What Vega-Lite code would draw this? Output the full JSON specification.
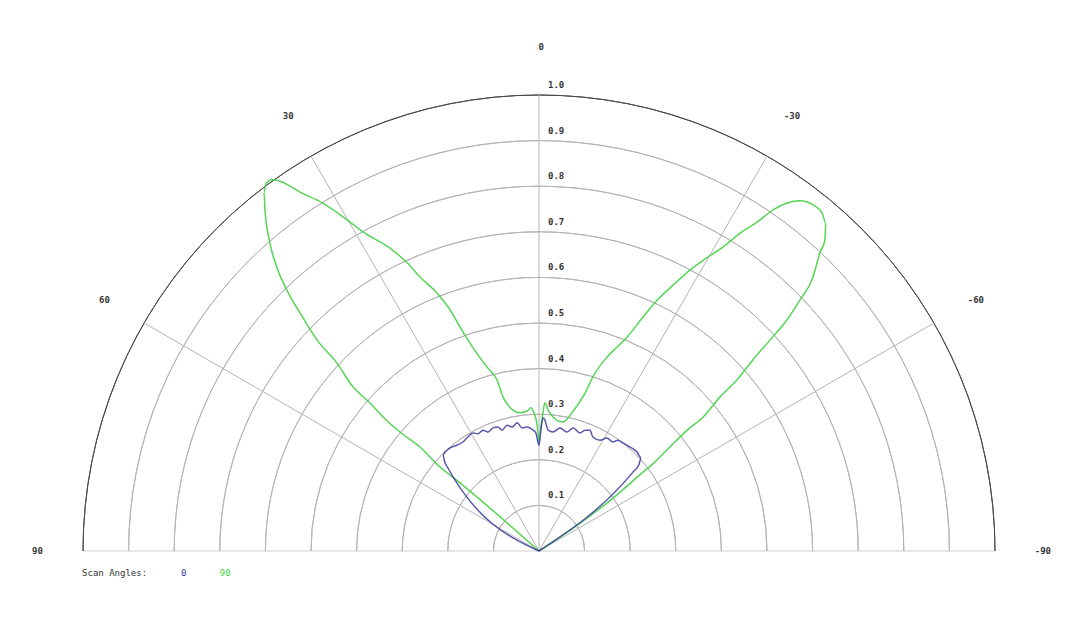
{
  "$schema": "https://vega.github.io/schema/vega-lite/v6.json",
  "description": "Polar half-plot of normalised amplitude for two scan angles",
  "width": 912,
  "height": 456,
  "autosize": "none",
  "padding": {"left": 83, "top": 95, "right": 85, "bottom": 86},
  "background": "white",
  "config": {"view": {"stroke": null}},
  "datasets": {
    "rings": [
      {"r": 0.1}, {"r": 0.2}, {"r": 0.3}, {"r": 0.4}, {"r": 0.5},
      {"r": 0.6}, {"r": 0.7}, {"r": 0.8}, {"r": 0.9}, {"r": 1.0}
    ],
    "spokes": [
      {"x": 0, "y": 0, "x2": 0, "y2": 1},
      {"x": 0, "y": 0, "x2": -0.5, "y2": 0.866},
      {"x": 0, "y": 0, "x2": -0.866, "y2": 0.5},
      {"x": 0, "y": 0, "x2": 0.5, "y2": 0.866},
      {"x": 0, "y": 0, "x2": 0.866, "y2": 0.5}
    ],
    "baseline": [{"x": -1, "y": 0, "x2": 1, "y2": 0}],
    "angleLabels": [
      {"label": "0", "x": 0.005, "y": 1.105},
      {"label": "30", "x": -0.55, "y": 0.953},
      {"label": "60", "x": -0.953, "y": 0.55},
      {"label": "90", "x": -1.1, "y": 0},
      {"label": "-30", "x": 0.555, "y": 0.953},
      {"label": "-60", "x": 0.958, "y": 0.55},
      {"label": "-90", "x": 1.105, "y": 0}
    ],
    "legendText": [
      {"label": "Scan Angles:", "x": -1.002, "y": -0.048, "series": "title"},
      {"label": "0", "x": -0.785, "y": -0.048, "series": "0"},
      {"label": "90", "x": -0.7, "y": -0.048, "series": "90"}
    ],
    "curves": [
      {"series": "90", "i": 0, "x": 0, "y": 0},
      {"series": "90", "i": 1, "x": -0.189, "y": 0.162},
      {"series": "90", "i": 2, "x": -0.217, "y": 0.184},
      {"series": "90", "i": 3, "x": -0.261, "y": 0.228},
      {"series": "90", "i": 4, "x": -0.305, "y": 0.261},
      {"series": "90", "i": 5, "x": -0.342, "y": 0.294},
      {"series": "90", "i": 6, "x": -0.371, "y": 0.325},
      {"series": "90", "i": 7, "x": -0.408, "y": 0.36},
      {"series": "90", "i": 8, "x": -0.443, "y": 0.412},
      {"series": "90", "i": 9, "x": -0.487, "y": 0.463},
      {"series": "90", "i": 10, "x": -0.524, "y": 0.522},
      {"series": "90", "i": 11, "x": -0.553, "y": 0.572},
      {"series": "90", "i": 12, "x": -0.575, "y": 0.623},
      {"series": "90", "i": 13, "x": -0.59, "y": 0.675},
      {"series": "90", "i": 14, "x": -0.601, "y": 0.748},
      {"series": "90", "i": 15, "x": -0.603, "y": 0.787},
      {"series": "90", "i": 16, "x": -0.599, "y": 0.805},
      {"series": "90", "i": 17, "x": -0.586, "y": 0.814},
      {"series": "90", "i": 18, "x": -0.568, "y": 0.811},
      {"series": "90", "i": 19, "x": -0.524, "y": 0.787},
      {"series": "90", "i": 20, "x": -0.474, "y": 0.763},
      {"series": "90", "i": 21, "x": -0.414, "y": 0.721},
      {"series": "90", "i": 22, "x": -0.386, "y": 0.7},
      {"series": "90", "i": 23, "x": -0.327, "y": 0.664},
      {"series": "90", "i": 24, "x": -0.289, "y": 0.632},
      {"series": "90", "i": 25, "x": -0.261, "y": 0.601},
      {"series": "90", "i": 26, "x": -0.224, "y": 0.566},
      {"series": "90", "i": 27, "x": -0.195, "y": 0.529},
      {"series": "90", "i": 28, "x": -0.173, "y": 0.491},
      {"series": "90", "i": 29, "x": -0.156, "y": 0.463},
      {"series": "90", "i": 30, "x": -0.134, "y": 0.43},
      {"series": "90", "i": 31, "x": -0.112, "y": 0.401},
      {"series": "90", "i": 32, "x": -0.092, "y": 0.375},
      {"series": "90", "i": 33, "x": -0.079, "y": 0.338},
      {"series": "90", "i": 34, "x": -0.068, "y": 0.32},
      {"series": "90", "i": 35, "x": -0.057, "y": 0.309},
      {"series": "90", "i": 36, "x": -0.042, "y": 0.303},
      {"series": "90", "i": 37, "x": -0.026, "y": 0.307},
      {"series": "90", "i": 38, "x": -0.018, "y": 0.314},
      {"series": "90", "i": 39, "x": -0.011, "y": 0.303},
      {"series": "90", "i": 40, "x": -0.004, "y": 0.276},
      {"series": "90", "i": 41, "x": 0, "y": 0.239},
      {"series": "90", "i": 42, "x": 0.004, "y": 0.27},
      {"series": "90", "i": 43, "x": 0.009, "y": 0.305},
      {"series": "90", "i": 44, "x": 0.013, "y": 0.325},
      {"series": "90", "i": 45, "x": 0.02, "y": 0.309},
      {"series": "90", "i": 46, "x": 0.031, "y": 0.294},
      {"series": "90", "i": 47, "x": 0.042, "y": 0.285},
      {"series": "90", "i": 48, "x": 0.053, "y": 0.283},
      {"series": "90", "i": 49, "x": 0.064, "y": 0.292},
      {"series": "90", "i": 50, "x": 0.075, "y": 0.307},
      {"series": "90", "i": 51, "x": 0.086, "y": 0.322},
      {"series": "90", "i": 52, "x": 0.101, "y": 0.346},
      {"series": "90", "i": 53, "x": 0.118, "y": 0.382},
      {"series": "90", "i": 54, "x": 0.149, "y": 0.425},
      {"series": "90", "i": 55, "x": 0.171, "y": 0.447},
      {"series": "90", "i": 56, "x": 0.193, "y": 0.469},
      {"series": "90", "i": 57, "x": 0.228, "y": 0.513},
      {"series": "90", "i": 58, "x": 0.259, "y": 0.55},
      {"series": "90", "i": 59, "x": 0.294, "y": 0.583},
      {"series": "90", "i": 60, "x": 0.331, "y": 0.616},
      {"series": "90", "i": 61, "x": 0.368, "y": 0.643},
      {"series": "90", "i": 62, "x": 0.404, "y": 0.667},
      {"series": "90", "i": 63, "x": 0.441, "y": 0.697},
      {"series": "90", "i": 64, "x": 0.478, "y": 0.721},
      {"series": "90", "i": 65, "x": 0.513, "y": 0.748},
      {"series": "90", "i": 66, "x": 0.544, "y": 0.763},
      {"series": "90", "i": 67, "x": 0.572, "y": 0.768},
      {"series": "90", "i": 68, "x": 0.601, "y": 0.759},
      {"series": "90", "i": 69, "x": 0.621, "y": 0.741},
      {"series": "90", "i": 70, "x": 0.629, "y": 0.719},
      {"series": "90", "i": 71, "x": 0.627, "y": 0.682},
      {"series": "90", "i": 72, "x": 0.616, "y": 0.654},
      {"series": "90", "i": 73, "x": 0.601, "y": 0.601},
      {"series": "90", "i": 74, "x": 0.572, "y": 0.55},
      {"series": "90", "i": 75, "x": 0.544, "y": 0.507},
      {"series": "90", "i": 76, "x": 0.507, "y": 0.463},
      {"series": "90", "i": 77, "x": 0.469, "y": 0.419},
      {"series": "90", "i": 78, "x": 0.434, "y": 0.375},
      {"series": "90", "i": 79, "x": 0.397, "y": 0.338},
      {"series": "90", "i": 80, "x": 0.36, "y": 0.294},
      {"series": "90", "i": 81, "x": 0.325, "y": 0.265},
      {"series": "90", "i": 82, "x": 0.287, "y": 0.228},
      {"series": "90", "i": 83, "x": 0.254, "y": 0.195},
      {"series": "90", "i": 84, "x": 0.221, "y": 0.167},
      {"series": "90", "i": 85, "x": 0.178, "y": 0.129},
      {"series": "90", "i": 86, "x": 0, "y": 0},
      {"series": "0", "i": 0, "x": 0, "y": 0},
      {"series": "0", "i": 1, "x": -0.206, "y": 0.193},
      {"series": "0", "i": 2, "x": -0.211, "y": 0.211},
      {"series": "0", "i": 3, "x": -0.206, "y": 0.217},
      {"series": "0", "i": 4, "x": -0.195, "y": 0.226},
      {"series": "0", "i": 5, "x": -0.18, "y": 0.232},
      {"series": "0", "i": 6, "x": -0.167, "y": 0.239},
      {"series": "0", "i": 7, "x": -0.156, "y": 0.25},
      {"series": "0", "i": 8, "x": -0.145, "y": 0.259},
      {"series": "0", "i": 9, "x": -0.134, "y": 0.257},
      {"series": "0", "i": 10, "x": -0.123, "y": 0.265},
      {"series": "0", "i": 11, "x": -0.112, "y": 0.261},
      {"series": "0", "i": 12, "x": -0.101, "y": 0.27},
      {"series": "0", "i": 13, "x": -0.09, "y": 0.272},
      {"series": "0", "i": 14, "x": -0.081, "y": 0.265},
      {"series": "0", "i": 15, "x": -0.07, "y": 0.276},
      {"series": "0", "i": 16, "x": -0.059, "y": 0.272},
      {"series": "0", "i": 17, "x": -0.048, "y": 0.281},
      {"series": "0", "i": 18, "x": -0.037, "y": 0.27},
      {"series": "0", "i": 19, "x": -0.026, "y": 0.272},
      {"series": "0", "i": 20, "x": -0.013, "y": 0.265},
      {"series": "0", "i": 21, "x": -0.007, "y": 0.259},
      {"series": "0", "i": 22, "x": 0, "y": 0.232},
      {"series": "0", "i": 23, "x": 0.004, "y": 0.265},
      {"series": "0", "i": 24, "x": 0.009, "y": 0.292},
      {"series": "0", "i": 25, "x": 0.013, "y": 0.287},
      {"series": "0", "i": 26, "x": 0.02, "y": 0.265},
      {"series": "0", "i": 27, "x": 0.031, "y": 0.261},
      {"series": "0", "i": 28, "x": 0.046, "y": 0.27},
      {"series": "0", "i": 29, "x": 0.061, "y": 0.261},
      {"series": "0", "i": 30, "x": 0.075, "y": 0.27},
      {"series": "0", "i": 31, "x": 0.09, "y": 0.259},
      {"series": "0", "i": 32, "x": 0.101, "y": 0.265},
      {"series": "0", "i": 33, "x": 0.112, "y": 0.265},
      {"series": "0", "i": 34, "x": 0.118, "y": 0.25},
      {"series": "0", "i": 35, "x": 0.134, "y": 0.243},
      {"series": "0", "i": 36, "x": 0.149, "y": 0.248},
      {"series": "0", "i": 37, "x": 0.162, "y": 0.239},
      {"series": "0", "i": 38, "x": 0.173, "y": 0.243},
      {"series": "0", "i": 39, "x": 0.184, "y": 0.237},
      {"series": "0", "i": 40, "x": 0.2, "y": 0.228},
      {"series": "0", "i": 41, "x": 0.215, "y": 0.217},
      {"series": "0", "i": 42, "x": 0.224, "y": 0.204},
      {"series": "0", "i": 43, "x": 0.219, "y": 0.189},
      {"series": "0", "i": 44, "x": 0.206, "y": 0.173},
      {"series": "0", "i": 45, "x": 0, "y": 0}
    ]
  },
  "layer": [
    {
      "data": {"name": "baseline"},
      "mark": {"type": "rule", "stroke": "#cfcfcf", "strokeWidth": 1},
      "encoding": {
        "x": {"field": "x", "type": "quantitative", "scale": {"domain": [-1, 1], "nice": false, "zero": false}, "axis": null},
        "y": {"field": "y", "type": "quantitative", "scale": {"domain": [0, 1], "nice": false, "zero": false}, "axis": null},
        "x2": {"field": "x2"},
        "y2": {"field": "y2"}
      }
    },
    {
      "data": {"name": "rings"},
      "mark": {"type": "arc", "theta": -1.5708, "theta2": 1.5708, "fill": null, "strokeWidth": 1},
      "encoding": {
        "x": {"datum": 0, "type": "quantitative"},
        "y": {"datum": 0, "type": "quantitative"},
        "radius": {"field": "r", "type": "quantitative", "scale": {"type": "linear", "domain": [0, 1], "range": [0, 456], "zero": true}, "legend": null},
        "radius2": {"field": "r"},
        "stroke": {"condition": {"test": "datum.r === 1", "value": "#4a4a4a"}, "value": "#b4b4b4"}
      }
    },
    {
      "data": {"name": "spokes"},
      "mark": {"type": "rule", "stroke": "#b4b4b4", "strokeWidth": 1},
      "encoding": {
        "x": {"field": "x", "type": "quantitative"},
        "y": {"field": "y", "type": "quantitative"},
        "x2": {"field": "x2"},
        "y2": {"field": "y2"}
      }
    },
    {
      "data": {"name": "rings"},
      "mark": {"type": "text", "align": "left", "baseline": "middle", "dx": 9, "dy": -10, "font": "DejaVu Sans Mono", "fontSize": 9, "fontWeight": "bold", "color": "#333"},
      "encoding": {
        "x": {"datum": 0, "type": "quantitative"},
        "y": {"field": "r", "type": "quantitative"},
        "text": {"field": "r", "type": "quantitative", "format": ".1f"}
      }
    },
    {
      "data": {"name": "angleLabels"},
      "mark": {"type": "text", "align": "center", "baseline": "middle", "font": "DejaVu Sans Mono", "fontSize": 9, "fontWeight": "bold", "color": "#333"},
      "encoding": {
        "x": {"field": "x", "type": "quantitative"},
        "y": {"field": "y", "type": "quantitative"},
        "text": {"field": "label"}
      }
    },
    {
      "data": {"name": "curves"},
      "mark": {"type": "line", "strokeWidth": 1.5, "interpolate": "monotone"},
      "encoding": {
        "x": {"field": "x", "type": "quantitative"},
        "y": {"field": "y", "type": "quantitative"},
        "order": {"field": "i", "type": "quantitative"},
        "detail": {"field": "series"},
        "color": {
          "field": "series",
          "type": "nominal",
          "scale": {"domain": ["0", "90", "title"], "range": ["#3a3a9e", "#44d044", "#333333"]},
          "legend": null
        },
        "opacity": {"condition": {"test": "datum.series === '0'", "value": 0.85}, "value": 0.9}
      }
    },
    {
      "data": {"name": "legendText"},
      "mark": {"type": "text", "align": "left", "baseline": "middle", "font": "DejaVu Sans Mono", "fontSize": 9},
      "encoding": {
        "x": {"field": "x", "type": "quantitative"},
        "y": {"field": "y", "type": "quantitative"},
        "text": {"field": "label"},
        "color": {"field": "series", "type": "nominal", "legend": null}
      }
    }
  ]
}
